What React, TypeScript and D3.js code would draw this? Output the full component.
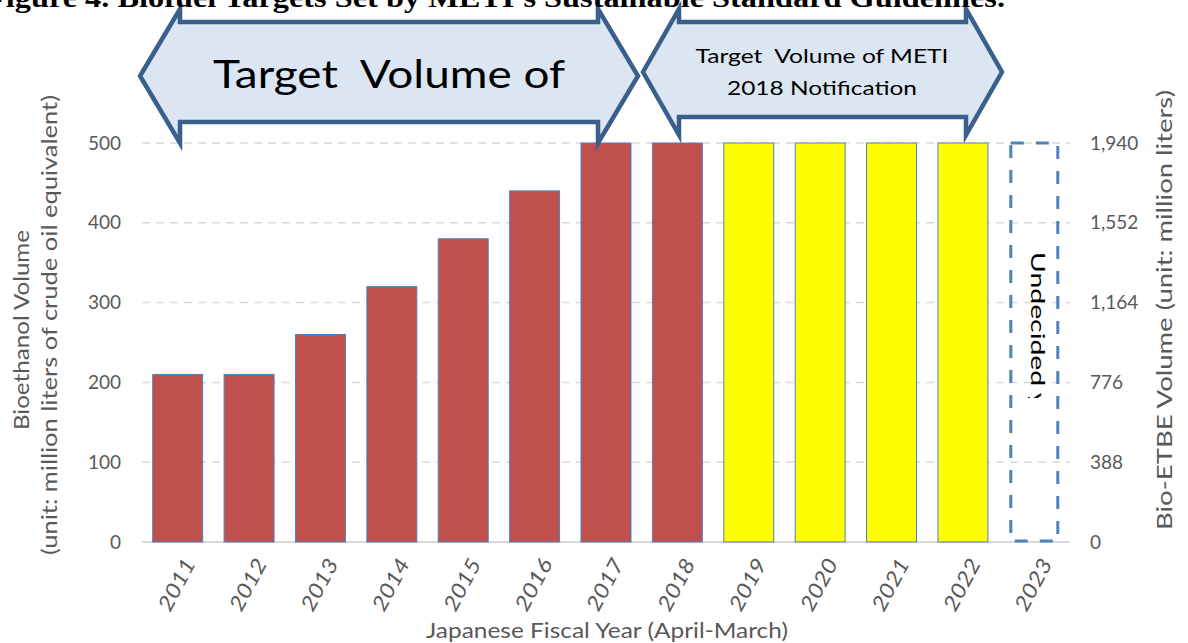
import * as d3 from 'd3';

const years = ['2011', '2012', '2013', '2014', '2015', '2016', '2017', '2018', '2019', '2020', '2021', '2022', '2023'];
const bioethanol = [210, 210, 260, 320, 380, 440, 500, 500, 500, 500, 500, 500, 500];
// 0 = red, 1 = METI 2018 (yellow), 2 = undecided (dashed outline)
const barKind = [0, 0, 0, 0, 0, 0, 0, 0, 1, 1, 1, 1, 2];
const leftTicks = [0, 100, 200, 300, 400, 500];
const rightTickLabels = ['0', '388', '776', '1,164', '1,552', '1,940'];

const W = 1188;
const H = 643;
const margin = { left: 142, right: 118, top: 143, bottom: 101 };
const font = 'Lato, "Open Sans", sans-serif';
const grey = '#595959';

const App = () => {
  const x = d3.scaleBand<string>()
    .domain(years)
    .range([margin.left, W - margin.right])
    .paddingInner(0.3)
    .paddingOuter(0.15);

  const y = d3.scaleLinear()
    .domain([0, 500])
    .range([H - margin.bottom, margin.top]);

  const fills = ['#C0504D', '#FFFF00', 'none'];

  // arrow callout shape: tips at y mid, heads tall, shaft shorter
  const arrow = (x0: number, x1: number, depth: number, top: number, bot: number, sTop: number, sBot: number) => {
    const mid = (top + bot) / 2;
    return `M${x0},${mid} L${x0 + depth},${top} L${x0 + depth},${sTop} L${x1 - depth},${sTop} L${x1 - depth},${top} L${x1},${mid} L${x1 - depth},${bot} L${x1 - depth},${sBot} L${x0 + depth},${sBot} L${x0 + depth},${bot} Z`;
  };

  const undecidedX = x('2023')! + x.bandwidth() / 2;

  return (
    <svg width={W} height={H} style={{ position: 'absolute', left: 0, top: 0, background: '#fff' }}>
      <defs>
        <clipPath id="clipUndecided">
          <rect x={undecidedX - 20} y={245} width={40} height={153} />
        </clipPath>
      </defs>

      {/* grid */}
      {leftTicks.slice(1).map(t => (
        <line key={t} x1={margin.left} x2={W - margin.right} y1={y(t)} y2={y(t)}
          stroke="#D9D9D9" strokeWidth={1.5} strokeDasharray="8,6" />
      ))}
      <line x1={margin.left} x2={W - margin.right} y1={y(0)} y2={y(0)} stroke="#D9D9D9" strokeWidth={2} />

      {/* bars */}
      {years.map((yr, i) => barKind[i] < 2 ? (
        <rect key={yr} x={x(yr)} y={y(bioethanol[i])} width={x.bandwidth()} height={y(0) - y(bioethanol[i])}
          fill={fills[barKind[i]]} stroke="#4F81BD" strokeWidth={1} />
      ) : (
        <rect key={yr} x={x(yr)! + 1.5} y={y(bioethanol[i])} width={x.bandwidth() - 3} height={y(0) - y(bioethanol[i]) - 1}
          fill="none" stroke="#4F81BD" strokeWidth={3} strokeDasharray="13,12" />
      ))}

      <g clipPath="url(#clipUndecided)">
        <text transform={`translate(${undecidedX - 3},252) rotate(90)`}
          fontFamily={font} fontSize={20} fill="#000"
          textLength={180} lengthAdjust="spacingAndGlyphs">Undecided yet</text>
      </g>

      {/* left ticks */}
      {leftTicks.map(t => (
        <text key={t} x={121} y={y(t)} dy="0.35em" textAnchor="end" fontFamily={font} fontSize={19} fill={grey}>{t}</text>
      ))}
      {/* right ticks */}
      {leftTicks.map((t, i) => (
        <text key={t} x={1090} y={y(t)} dy="0.35em" textAnchor="start" fontFamily={font} fontSize={19} fill={grey}>{rightTickLabels[i]}</text>
      ))}

      {/* x ticks */}
      {years.map(yr => (
        <text key={yr} transform={`translate(${x(yr)! + x.bandwidth() / 2 + 12},560) rotate(-62)`}
          textAnchor="end" dy="0.35em" fontFamily={font} fontStyle="italic" fontSize={21} fill={grey}
          textLength={56} lengthAdjust="spacingAndGlyphs">{yr}</text>
      ))}

      {/* axis titles */}
      <text x={607} y={638} textAnchor="middle" fontFamily={font} fontSize={21} fill={grey}
        textLength={362} lengthAdjust="spacingAndGlyphs">Japanese Fiscal Year (April-March)</text>
      <text transform="translate(29,330) rotate(-90)" textAnchor="middle" fontFamily={font} fontSize={21} fill={grey}
        textLength={200} lengthAdjust="spacingAndGlyphs">Bioethanol Volume</text>
      <text transform="translate(57,325) rotate(-90)" textAnchor="middle" fontFamily={font} fontSize={21} fill={grey}
        textLength={460} lengthAdjust="spacingAndGlyphs">(unit: million liters of crude oil equivalent)</text>
      <text transform="translate(1172,310) rotate(-90)" textAnchor="middle" fontFamily={font} fontSize={21} fill={grey}
        textLength={440} lengthAdjust="spacingAndGlyphs">Bio-ETBE Volume (unit: million liters)</text>

      {/* arrows */}
      <path d={arrow(140, 638, 40, 9, 143, 22, 122)} fill="#DCE6F2" stroke="#3A5F8C" strokeWidth={4.5} strokeLinejoin="miter" />
      <path d={arrow(643, 1002, 36, 9, 135, 22, 117)} fill="#DCE6F2" stroke="#3A5F8C" strokeWidth={4.5} strokeLinejoin="miter" />
      <text x={389} y={88} textAnchor="middle" fontFamily={font} fontSize={38} fill="#000"
        textLength={352} lengthAdjust="spacingAndGlyphs" style={{ whiteSpace: 'pre' }}>Target  Volume of</text>
      <text x={822} y={63} textAnchor="middle" fontFamily={font} fontSize={19} fill="#000"
        textLength={253} lengthAdjust="spacingAndGlyphs" style={{ whiteSpace: 'pre' }}>Target  Volume of METI</text>
      <text x={822} y={95} textAnchor="middle" fontFamily={font} fontSize={19} fill="#000"
        textLength={190} lengthAdjust="spacingAndGlyphs">2018 Notification</text>

      {/* title, partly cut off at top as in the source figure */}
      <text x={-14} y={7} fontFamily='"Liberation Serif", "Times New Roman", serif' fontWeight="bold" fontSize={27} fill="#000"
        textLength={1019} lengthAdjust="spacingAndGlyphs">Figure 4. Biofuel Targets Set by METI's Sustainable Standard Guidelines.</text>
    </svg>
  );
};

export default App;
